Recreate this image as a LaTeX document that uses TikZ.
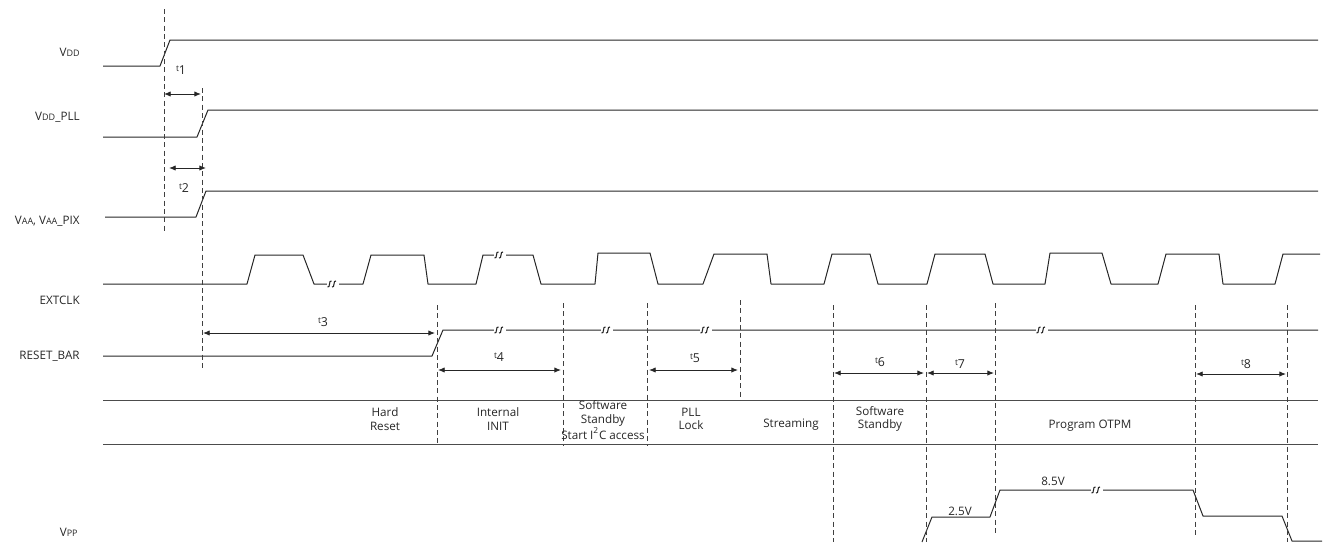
\documentclass[tikz,border=0pt]{standalone}
\usepackage{fontspec}
\setmainfont{Open Sans}
\usetikzlibrary{arrows.meta}
\newcommand{\smc}[1]{{\fontsize{5.4}{6}\selectfont #1}}
\newcommand{\tlab}[1]{{\fontsize{5}{6}\selectfont t}\raisebox{-1.5pt}{\fontsize{7.4}{8}\selectfont #1}}
\tikzset{
 sig/.style={line width=0.6pt, draw=black!85, line join=round},
 grid/.style={line width=0.6pt, draw=black!70},
 vdash/.style={line width=0.6pt, draw=black!75, dash pattern=on 3pt off 2pt},
 dim/.style={line width=0.5pt, draw=black!85, {Latex[length=4pt,width=3.2pt]}-{Latex[length=4pt,width=3.2pt]}},
 lab/.style={font=\fontsize{7}{8.2}\selectfont, text=black!85, inner sep=0pt},
 brk/.pic={
   \fill[white] (-6,-4) rectangle (6,4);
   \draw[line width=0.65pt, black!85] (-5.5,3) .. controls (-2.5,4.5) and (-4.5,-4.5) .. (-1.5,-3);
   \draw[line width=0.65pt, black!85] (-1,3) .. controls (2,4.5) and (0,-4.5) .. (3,-3);
 }
}
\begin{document}
\begin{tikzpicture}[x=0.6pt,y=-0.6pt]
\useasboundingbox (0,0) rectangle (1330,542);

% signal labels
\node[lab, anchor=east] (lvdd) at (80,52) {V\smc{DD}};
\node[lab, anchor=east] (lvddpll) at (80,117) {V\smc{DD}\_PLL};
\node[lab, anchor=east] (lvaa) at (80,221) {V\smc{AA}, V\smc{AA}\_PIX};
\node[lab, anchor=east] (lclk) at (80,300) {EXTCLK};
\node[lab, anchor=east] (lrst) at (80,356) {RESET\_BAR};
\node[lab, anchor=east] (lvpp) at (78,532) {V\smc{PP}};

% power rails
\draw[sig] (103,66) -- (160,66) -- (170,40) -- (1318,40);
\draw[sig] (103,137) -- (197,137) -- (208,110) -- (1318,110);
\draw[sig] (105,217) -- (196,217) -- (206,191) -- (1318,191);

% EXTCLK
\draw[sig] (103,284) -- (247,284) -- (255,255) -- (303,255) -- (314,284) -- (363,284)
 -- (371,255) -- (424,255) -- (428,284) -- (476,284) -- (483,255) -- (533,255)
 -- (541,284) -- (595,284) -- (598,253) -- (650,253) -- (658,284) -- (703,284)
 -- (714,254) -- (767,254) -- (771,284) -- (824,284) -- (832,254) -- (870,254)
 -- (878,284) -- (927,284) -- (935,254) -- (985,254) -- (993,284) -- (1045,284)
 -- (1050,253) -- (1102,253) -- (1111,284) -- (1158,284) -- (1166,254) -- (1219,254)
 -- (1223,284) -- (1275,284) -- (1283,254) -- (1320,254);

% RESET_BAR
\draw[sig] (103,356) -- (432,356) -- (443,330) -- (1318,330);

% state row
\draw[grid] (103,400) -- (1318,400);
\draw[grid] (103,444) -- (1318,444);

% VPP
\draw[sig] (922,542) -- (932,517) -- (990,517) -- (1000,490) -- (1193,490)
 -- (1203,516) -- (1282,516) -- (1292,541) -- (1322,541);

% breaks
\pic at (333,284) {brk};
\pic at (500,255) {brk};
\pic at (500,330) {brk};
\pic at (607,330) {brk};
\pic at (706,330) {brk};
\pic at (1042,330) {brk};
\pic at (1097,490) {brk};

% dashed markers
\draw[vdash] (164,9) -- (164,232);
\draw[vdash] (202,88) -- (202,368);
\draw[vdash] (437,305) -- (437,445);
\draw[vdash] (563,303) -- (563,445);
\draw[vdash] (647,303) -- (647,445);
\draw[vdash] (740,300) -- (740,400);
\draw[vdash] (833,305) -- (833,542);
\draw[vdash] (926,305) -- (926,542);
\draw[vdash] (995,303) -- (995,536);
\draw[vdash] (1195,305) -- (1195,538);
\draw[vdash] (1287,305) -- (1287,542);

% dimension arrows
\draw[dim] (164,94) -- (201,94);
\draw[dim] (169,168) -- (206,168);
\draw[dim] (203,333) -- (435,333);
\draw[dim] (438,370) -- (561,370);
\draw[dim] (649,370) -- (738,370);
\draw[dim] (834,373) -- (924,373);
\draw[dim] (927,373) -- (994,373);
\draw[dim] (1196,374) -- (1286,374);

% timing labels
\node[lab] (t1) at (181,70) {\tlab{1}};
\node[lab] (t2) at (184,188) {\tlab{2}};
\node[lab] (t3) at (323,322) {\tlab{3}};
\node[lab] (t4) at (499,357) {\tlab{4}};
\node[lab] (t5) at (695,358) {\tlab{5}};
\node[lab] (t6) at (880,362) {\tlab{6}};
\node[lab] (t7) at (960,364) {\tlab{7}};
\node[lab] (t8) at (1246,364) {\tlab{8}};

% state labels
\node[lab, align=center] (s1) at (385,419) {Hard\\Reset};
\node[lab, align=center] (s2) at (498,419) {Internal\\INIT};
\node[lab, align=center] (s3) at (603,420) {Software\\Standby\\Start I\textsuperscript{2}C access};
\node[lab, align=center] (s4) at (691,419) {PLL\\Lock};
\node[lab] (s5) at (791,425) {Streaming};
\node[lab, align=center] (s6) at (880,419) {Software\\Standby};
\node[lab] (s7) at (1090,426) {Program OTPM};

% VPP levels
\node[lab] (v25) at (960,511) {2.5V};
\node[lab] (v85) at (1053,481) {8.5V};
\end{tikzpicture}
\end{document}
